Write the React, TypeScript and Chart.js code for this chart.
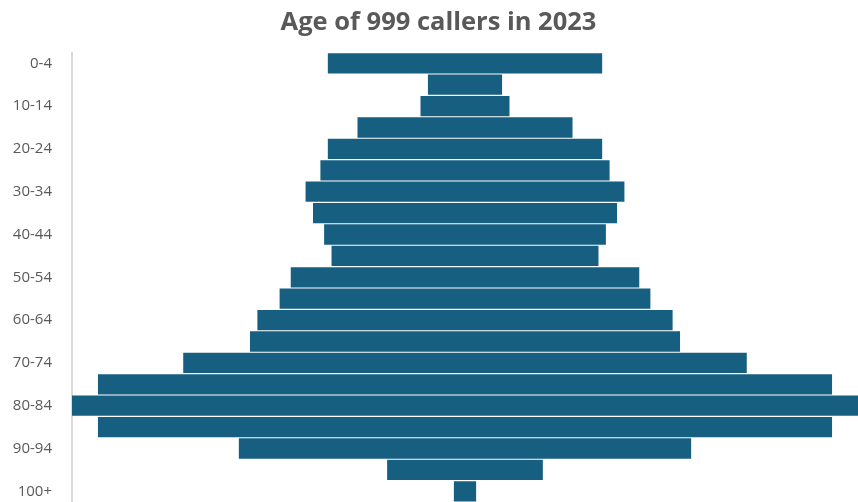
import React, { useEffect, useRef } from "react";
import { Chart, registerables } from "chart.js";

Chart.register(...registerables);

const ageGroups: string[] = [
  "0-4", "5-9", "10-14", "15-19", "20-24", "25-29", "30-34", "35-39", "40-44", "45-49",
  "50-54", "55-59", "60-64", "65-69", "70-74", "75-79", "80-84", "85-89", "90-94", "95-99", "100+",
];

const callers: number[] = [37, 10, 12, 29, 37, 39, 43, 41, 38, 36, 47, 50, 56, 58, 76, 99, 106, 99, 61, 21, 3];

const titleText = "Age of 999 callers in 2023";
const barColor = "#175f80";
const textColor = "#595959";

// shifts the title's box so it is centred like the original chart's title
const titleShift = {
  id: "titleShift",
  afterLayout(chart: any) {
    const t = chart.titleBlock;
    if (t) t.left += 19;
  },
};

export default function App() {
  const ref = useRef<HTMLCanvasElement | null>(null);

  useEffect(() => {
    if (!ref.current) return;
    const maxV = Math.max(...callers) / 2;
    const chart = new Chart(ref.current, {
      type: "bar",
      data: {
        labels: ageGroups,
        datasets: [
          {
            label: "Callers",
            data: callers.map((v) => [-v / 2, v / 2]) as any,
            backgroundColor: barColor,
            borderWidth: 0,
            barPercentage: 1,
            categoryPercentage: 0.95,
          },
        ],
      },
      plugins: [titleShift],
      options: {
        indexAxis: "y",
        animation: false,
        responsive: false,
        maintainAspectRatio: false,
        devicePixelRatio: 1,
        layout: { padding: { left: 0, right: 0, top: 0, bottom: 0 } },
        plugins: {
          legend: { display: false },
          tooltip: { enabled: false },
          title: {
            display: true,
            text: titleText,
            color: textColor,
            font: { family: "'Open Sans', sans-serif", size: 25.5, weight: "bold" },
            padding: { top: 7, bottom: 15 },
          },
        },
        scales: {
          x: {
            display: false,
            min: -maxV,
            max: maxV,
          },
          y: {
            grid: { display: false, drawTicks: false },
            border: { display: true, color: "#d9d9d9", width: 2 },
            afterFit: (scale: any) => {
              scale.width = 72;
              scale.paddingTop = 0;
              scale.paddingBottom = 0;
            },
            ticks: {
              autoSkip: false,
              padding: 20,
              color: textColor,
              font: { family: "'Open Sans', sans-serif", size: 15 },
              callback: (_v: any, i: number) => (i % 2 === 0 ? ageGroups[i] : ""),
            },
          },
        },
      },
    });
    return () => chart.destroy();
  }, []);

  return (
    <div style={{ position: "fixed", left: 0, top: 0, width: 858, height: 502, background: "#fff" }}>
      <canvas ref={ref} width={858} height={502} style={{ display: "block", width: 858, height: 502 }} />
    </div>
  );
}
